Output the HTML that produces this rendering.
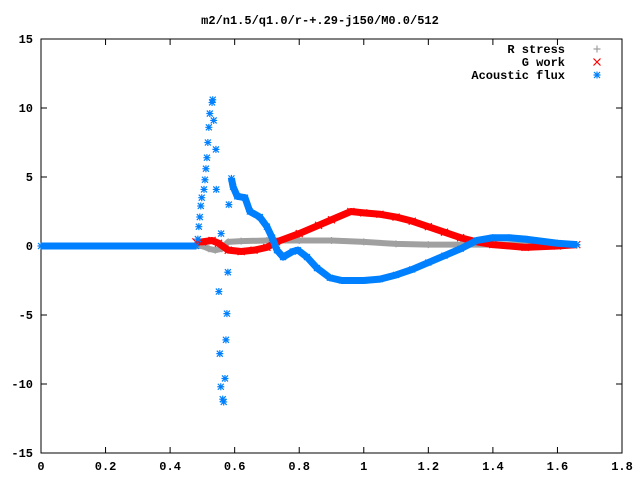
<!DOCTYPE html>
<html><head><meta charset="utf-8"><style>
body{margin:0;background:#fff}
svg{display:block}
text{font-family:"Liberation Mono",monospace;font-size:12px;font-weight:bold;fill:#000}
</style></head><body>
<svg id="chart" width="640" height="480" viewBox="0 0 640 480" xmlns="http://www.w3.org/2000/svg">
<text x="320" y="24" text-anchor="middle">m2/n1.5/q1.0/r-+.29-j150/M0.0/512</text>
<g id="axes"></g>
<g id="series"></g>
<g id="legend"></g>
</svg>
<script>
const xTicks=[0,0.2,0.4,0.6,0.8,1,1.2,1.4,1.6,1.8];
const xTickLabels=["0","0.2","0.4","0.6","0.8","1","1.2","1.4","1.6","1.8"];
const yTicks=[-15,-10,-5,0,5,10,15];
const yTickLabels=["-15","-10","-5","0","5","10","15"];
const stressX=[0.48,0.5,0.52,0.54,0.56,0.58,0.62,0.7,0.8,0.9,1.0,1.1,1.2,1.3,1.4,1.5,1.6,1.66];
const stressY=[0,0,-0.2,-0.3,-0.2,0.3,0.35,0.4,0.4,0.4,0.3,0.15,0.1,0.1,0.1,0.1,0.05,0.05];
const workX=[0.48,0.5,0.53,0.55,0.58,0.62,0.66,0.7,0.73,0.8,0.86,0.9,0.96,1.0,1.05,1.1,1.15,1.2,1.25,1.3,1.35,1.4,1.5,1.6,1.66];
const workY=[0.3,0.3,0.4,0.2,-0.3,-0.4,-0.3,-0.1,0.3,0.9,1.5,1.9,2.5,2.4,2.3,2.1,1.8,1.4,1.0,0.6,0.3,0.1,-0.1,0.0,0.1];
const fluxBaseX=[0,0.48];
const fluxBaseY=[0,0];
const fluxX=[0.59,0.595,0.608,0.632,0.647,0.678,0.7,0.716,0.731,0.75,0.78,0.796,0.824,0.855,0.895,0.932,0.97,1.0,1.05,1.1,1.15,1.2,1.25,1.3,1.35,1.4,1.45,1.5,1.6,1.66];
const fluxY=[4.9,4.3,3.6,3.5,2.5,2.1,1.4,0.6,-0.3,-0.8,-0.4,-0.3,-0.8,-1.6,-2.3,-2.5,-2.5,-2.5,-2.4,-2.1,-1.7,-1.2,-0.7,-0.2,0.4,0.6,0.6,0.5,0.2,0.1];
const spikeX=[0.486,0.489,0.492,0.495,0.498,0.505,0.508,0.511,0.514,0.517,0.520,0.523,0.530,0.532,0.535,0.542,0.543,0.558,0.582,0.579,0.576,0.551,0.573,0.554,0.570,0.557,0.566,0.563];
const spikeY=[0.5,1.4,2.1,2.9,3.5,4.1,4.8,5.6,6.4,7.5,8.6,9.6,10.4,10.6,9.1,7.0,4.1,0.9,3.0,-1.9,-4.9,-3.3,-6.8,-7.8,-9.6,-10.2,-11.3,-11.1];

const L=41,R=622,T=39,B=453,xmax=1.8,ymin=-15,ymax=15;
const sx=v=>L+(v/xmax)*(R-L);
const sy=v=>B-(v-ymin)/(ymax-ymin)*(B-T);
const NS="http://www.w3.org/2000/svg";
function mk(tag,attrs,parent){const e=document.createElementNS(NS,tag);for(const k in attrs)e.setAttribute(k,attrs[k]);parent.appendChild(e);return e;}
const axes=document.getElementById('axes');
const frame=mk('rect',{x:L,y:T,width:R-L,height:B-T,fill:'none',stroke:'#000','stroke-width':1},axes);


xTicks.forEach((v,i)=>{
  const x=sx(v);
  const t1=mk('line',{x1:x,y1:B,x2:x,y2:B-6,stroke:'#000'},axes);
  
  
  const t2=mk('line',{x1:x,y1:T,x2:x,y2:T+6,stroke:'#000'},axes);
  
  
  const tx=mk('text',{x:x,y:B+17,'text-anchor':'middle'},axes);tx.textContent=xTickLabels[i];
  
  
});
yTicks.forEach((v,i)=>{
  const y=sy(v);
  const t1=mk('line',{x1:L,y1:y,x2:L+6,y2:y,stroke:'#000'},axes);
  
  
  const t2=mk('line',{x1:R,y1:y,x2:R-6,y2:y,stroke:'#000'},axes);
  
  
  const tx=mk('text',{x:L-8,y:y+4,'text-anchor':'end'},axes);tx.textContent=yTickLabels[i];
  
  
});
const ser=document.getElementById('series');
function plus(g,x,y,c){mk('path',{d:`M${x-3.5} ${y}H${x+3.5}M${x} ${y-3.5}V${y+3.5}`,stroke:c,'stroke-width':1.2,fill:'none'},g);}
function cross(g,x,y,c){mk('path',{d:`M${x-3.5} ${y-3.5}L${x+3.5} ${y+3.5}M${x-3.5} ${y+3.5}L${x+3.5} ${y-3.5}`,stroke:c,'stroke-width':1.2,fill:'none'},g);}
function star(g,x,y,c){mk('path',{d:`M${x-3.5} ${y}H${x+3.5}M${x} ${y-3.5}V${y+3.5}M${x-3} ${y-3}L${x+3} ${y+3}M${x-3} ${y+3}L${x+3} ${y-3}`,stroke:c,'stroke-width':1.2,fill:'none'},g);}
function series(name,xs,ys,c,w,marker){
  const g=mk('g',{},ser);
  
  
  const pts=xs.map((v,i)=>sx(v)+','+sy(ys[i])).join(' ');
  mk('polyline',{points:pts,fill:'none',stroke:c,'stroke-width':w,'stroke-linejoin':'round'},g);
  xs.forEach((v,i)=>marker(g,sx(v),sy(ys[i]),c));
}
series('r-stress-series',stressX,stressY,'#a0a0a0',6,plus);
series('g-work-series',workX,workY,'#ff0000',7,cross);
series('acoustic-flux-baseline',fluxBaseX,fluxBaseY,'#0080ff',7,star);
series('acoustic-flux-series',fluxX,fluxY,'#0080ff',7,star);
const sg=mk('g',{},ser);


spikeX.forEach((v,i)=>star(sg,sx(v),sy(spikeY[i]),'#0080ff'));
const lg=document.getElementById('legend');
const items=[["R stress",'#a0a0a0',plus],["G work",'#ff0000',cross],["Acoustic flux",'#0080ff',star]];
items.forEach((it,i)=>{
  const y=49+i*13;
  const t=mk('text',{x:565,y:y+4,'text-anchor':'end'},lg);t.textContent=it[0];
  
  
  it[2](lg,597,y,it[1]);
});
</script>
</body></html>
